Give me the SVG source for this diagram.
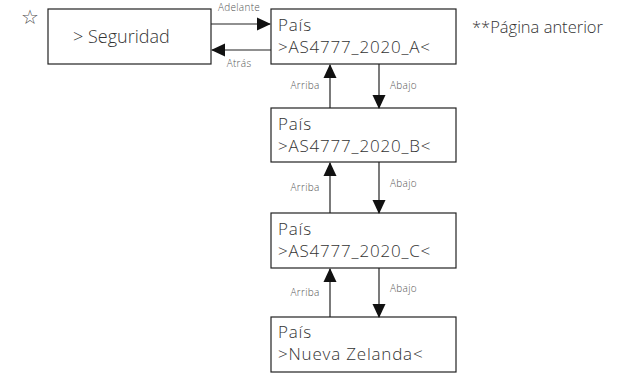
<svg xmlns="http://www.w3.org/2000/svg" width="618" height="374" viewBox="0 0 618 374">
<style>
.box{fill:#fff;stroke:#222;stroke-width:1.2}
.t{font-family:"Open Sans","Noto Sans",sans-serif;font-weight:300;font-size:17px;letter-spacing:0.8px;fill:#333}
.lbl{font-family:"Open Sans","Noto Sans",sans-serif;font-weight:300;font-size:10px;letter-spacing:0.3px;fill:#555}
.ln{stroke:#222;stroke-width:1.2;fill:none}
</style>
<defs>
<marker id="ah" markerWidth="14" markerHeight="15" refX="14" refY="7" orient="auto" markerUnits="userSpaceOnUse" viewBox="0 0 15 14">
<path d="M0,0 L15,7 L0,14 Z" fill="#111"/>
</marker>
</defs>
<text x="21" y="24" font-family="DejaVu Sans,sans-serif" font-size="20" fill="#555">☆</text>
<g id="seguridad">
<rect class="box" x="48" y="9" width="163" height="55"/>
<text class="t" x="73" y="43" style="font-size:18px;letter-spacing:0">&gt; Seguridad</text>
</g>
<g id="paisA">
<rect class="box" x="271" y="9" width="185" height="55"/>
<text class="t" x="278" y="31">País</text>
<text class="t" x="278" y="53">&gt;AS4777_2020_A&lt;</text>
</g>
<text class="t" x="472" y="33" style="font-size:16.5px;letter-spacing:0">**Página anterior</text>
<g id="paisB">
<rect class="box" x="271" y="108" width="185" height="54"/>
<text class="t" x="278" y="130">País</text>
<text class="t" x="278" y="152">&gt;AS4777_2020_B&lt;</text>
</g>
<g id="paisC">
<rect class="box" x="271" y="213" width="185" height="55"/>
<text class="t" x="278" y="235">País</text>
<text class="t" x="278" y="257">&gt;AS4777_2020_C&lt;</text>
</g>
<g id="paisD">
<rect class="box" x="271" y="317" width="185" height="55"/>
<text class="t" x="278" y="338">País</text>
<text class="t" x="278" y="360">&gt;Nueva Zelanda&lt;</text>
</g>
<g id="connectors">
<line class="ln" x1="211" y1="24" x2="270" y2="24" marker-end="url(#ah)"/>
<line class="ln" x1="271" y1="50" x2="212" y2="50" marker-end="url(#ah)"/>
<line class="ln" x1="330" y1="108" x2="330" y2="65" marker-end="url(#ah)"/>
<line class="ln" x1="379" y1="64" x2="379" y2="108" marker-end="url(#ah)"/>
<line class="ln" x1="330" y1="213" x2="330" y2="163" marker-end="url(#ah)"/>
<line class="ln" x1="379" y1="162" x2="379" y2="213" marker-end="url(#ah)"/>
<line class="ln" x1="330" y1="317" x2="330" y2="269" marker-end="url(#ah)"/>
<line class="ln" x1="379" y1="268" x2="379" y2="317" marker-end="url(#ah)"/>
<text class="lbl" x="239" y="11" text-anchor="middle">Adelante</text>
<text class="lbl" x="239" y="67" text-anchor="middle">Atrás</text>
<text class="lbl" x="305" y="89" text-anchor="middle">Arriba</text>
<text class="lbl" x="390" y="89">Abajo</text>
<text class="lbl" x="305" y="191" text-anchor="middle">Arriba</text>
<text class="lbl" x="390" y="187">Abajo</text>
<text class="lbl" x="305" y="296" text-anchor="middle">Arriba</text>
<text class="lbl" x="390" y="292">Abajo</text>
</g>
</svg>
